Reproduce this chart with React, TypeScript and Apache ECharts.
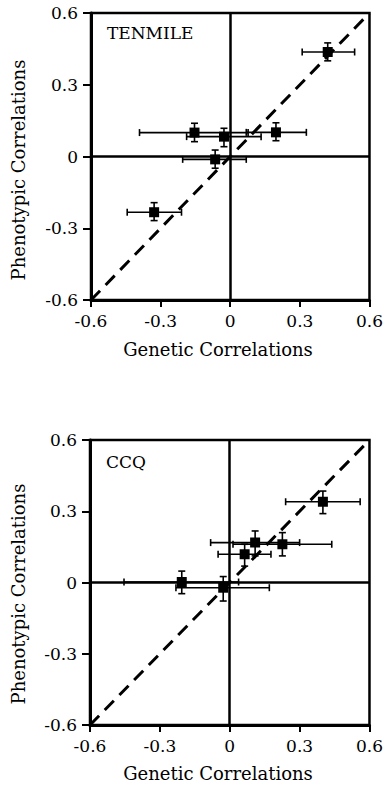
import React, { useEffect, useRef } from "react";
import * as echarts from "echarts";

const axisTicks = [-0.6, -0.3, 0, 0.3, 0.6];

const tenmileGenetic = [0.42, -0.154, -0.027, 0.197, -0.065, -0.328];
const tenmilePhenotypic = [0.437, 0.1, 0.083, 0.101, -0.012, -0.233];
const tenmileGenLo = [0.31, -0.391, -0.188, 0.069, -0.205, -0.444];
const tenmileGenHi = [0.536, 0.077, 0.133, 0.328, 0.069, -0.21];
const tenmilePhenLo = [0.4, 0.062, 0.041, 0.066, -0.049, -0.268];
const tenmilePhenHi = [0.475, 0.139, 0.118, 0.141, 0.027, -0.193];

const ccqGenetic = [0.4, 0.109, 0.226, 0.064, -0.206, -0.028];
const ccqPhenotypic = [0.34, 0.168, 0.161, 0.119, 0.002, -0.022];
const ccqGenLo = [0.24, -0.082, 0.014, -0.05, -0.454, -0.231];
const ccqGenHi = [0.56, 0.3, 0.438, 0.177, 0.038, 0.17];
const ccqPhenLo = [0.29, 0.112, 0.112, 0.069, -0.047, -0.078];
const ccqPhenHi = [0.385, 0.217, 0.21, 0.161, 0.048, 0.025];

const FONT = "DejaVu Serif";

function rows(g: number[], p: number[], gl: number[], gh: number[], pl: number[], ph: number[]) {
  return g.map((v, i) => [v, p[i], gl[i], gh[i], pl[i], ph[i]]);
}

const renderErr = (params: any, api: any) => {
  const x = api.value(0);
  const y = api.value(1);
  const xl = api.coord([api.value(2), y]);
  const xh = api.coord([api.value(3), y]);
  const yl = api.coord([x, api.value(4)]);
  const yh = api.coord([x, api.value(5)]);
  const c = api.coord([x, y]);
  const st = { stroke: "#000", lineWidth: 1.6 };
  const cap = 3.5;
  const s = 5;
  return {
    type: "group",
    children: [
      { type: "line", shape: { x1: xl[0], y1: xl[1], x2: xh[0], y2: xh[1] }, style: st },
      { type: "line", shape: { x1: xl[0], y1: xl[1] - cap, x2: xl[0], y2: xl[1] + cap }, style: st },
      { type: "line", shape: { x1: xh[0], y1: xh[1] - cap, x2: xh[0], y2: xh[1] + cap }, style: st },
      { type: "line", shape: { x1: yl[0], y1: yl[1], x2: yh[0], y2: yh[1] }, style: st },
      { type: "line", shape: { x1: yl[0] - cap, y1: yl[1], x2: yl[0] + cap, y2: yl[1] }, style: st },
      { type: "line", shape: { x1: yh[0] - cap, y1: yh[1], x2: yh[0] + cap, y2: yh[1] }, style: st },
      { type: "rect", shape: { x: c[0] - s, y: c[1] - s, width: 2 * s, height: 2 * s }, style: { fill: "#000" } },
    ],
  };
};

function makeAxes(idx: number) {
  const common = {
    gridIndex: idx,
    type: "value",
    min: -0.6,
    max: 0.6,
    interval: 0.3,
    splitLine: { show: false },
    axisLine: { show: true, onZero: false, lineStyle: { color: "#000", width: 3 } },
    axisTick: { show: true, inside: false, length: 7, lineStyle: { color: "#000", width: 2 } },
    axisLabel: {
      color: "#000",
      fontFamily: FONT,
      fontSize: 17,
      margin: 12,
      formatter: (v: number) => (Math.abs(v) < 1e-9 ? "0" : String(Math.round(v * 10) / 10)),
    },
  };
  return {
    x: { ...common, position: "bottom" },
    y: { ...common, position: "left", axisTick: { ...common.axisTick, length: 8 }, axisLabel: { ...common.axisLabel, margin: 13 } },
  };
}

function seriesFor(idx: number, data: number[][]) {
  return [
    {
      type: "line",
      xAxisIndex: idx,
      yAxisIndex: idx,
      data: [
        [axisTicks[0], axisTicks[0]],
        [axisTicks[4], axisTicks[4]],
      ],
      symbol: "none",
      lineStyle: { color: "#000", width: 3, type: [13, 8] },
      z: 3,
      markLine: {
        silent: true,
        symbol: "none",
        label: { show: false },
        lineStyle: { color: "#000", width: 2.5, type: "solid" },
        emphasis: { disabled: true },
        data: [{ xAxis: 0 }, { yAxis: 0 }],
      },
    },
    {
      type: "custom",
      xAxisIndex: idx,
      yAxisIndex: idx,
      renderItem: renderErr,
      encode: { x: 0, y: 1 },
      data,
      z: 5,
    },
  ];
}

export default function App() {
  const ref = useRef<HTMLDivElement>(null);
  useEffect(() => {
    if (!ref.current) return;
    const chart = echarts.init(ref.current, undefined, { renderer: "svg" });
    const a0 = makeAxes(0);
    const a1 = makeAxes(1);
    const titleStyle = { fill: "#000", fontFamily: FONT, fontSize: 18, textAlign: "center", textVerticalAlign: "middle" };
    chart.setOption({
      animation: false,
      backgroundColor: "#fff",
      grid: [
        { left: 91, right: 13, top: 13, height: 287, show: true, borderColor: "#000", borderWidth: 2.5, backgroundColor: "transparent" },
        { left: 90, right: 13, top: 440, height: 285, show: true, borderColor: "#000", borderWidth: 2.5, backgroundColor: "transparent" },
      ],
      xAxis: [a0.x, a1.x],
      yAxis: [a0.y, a1.y],
      series: [
        ...seriesFor(0, rows(tenmileGenetic, tenmilePhenotypic, tenmileGenLo, tenmileGenHi, tenmilePhenLo, tenmilePhenHi)),
        ...seriesFor(1, rows(ccqGenetic, ccqPhenotypic, ccqGenLo, ccqGenHi, ccqPhenLo, ccqPhenHi)),
      ],
      graphic: [
        { type: "text", left: 107, top: 24, style: { text: "TENMILE", fill: "#000", fontFamily: FONT, fontSize: 17 } },
        { type: "text", left: 106, top: 453, style: { text: "CCQ", fill: "#000", fontFamily: FONT, fontSize: 17 } },
        { type: "text", x: 218, y: 349, style: { ...titleStyle, text: "Genetic Correlations" } },
        { type: "text", x: 218, y: 773, style: { ...titleStyle, text: "Genetic Correlations" } },
        { type: "text", x: 18, y: 170, rotation: Math.PI / 2, style: { ...titleStyle, text: "Phenotypic Correlations" } },
        { type: "text", x: 18, y: 594, rotation: Math.PI / 2, style: { ...titleStyle, text: "Phenotypic Correlations" } },
      ],
    });
    return () => chart.dispose();
  }, []);
  return <div ref={ref} style={{ position: "absolute", left: 0, top: 0, width: 386, height: 787 }} />;
}
